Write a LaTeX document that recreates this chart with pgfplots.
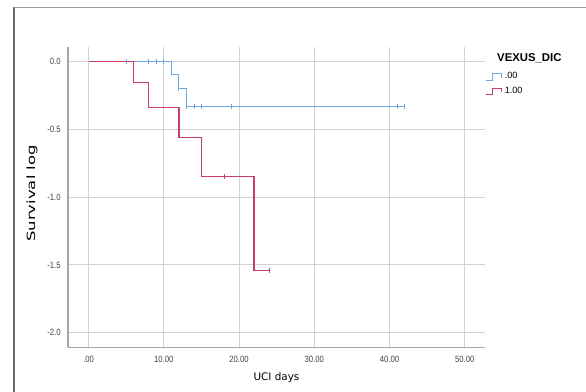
\documentclass[border=0pt]{standalone}
\usepackage{pgfplots}
\pgfplotsset{compat=1.18}
\usepackage{fontspec}
\setmainfont{Liberation Sans}
\newfontfamily\labfont{DejaVu Sans}
\definecolor{kmblue}{RGB}{115,165,222}
\definecolor{kmred}{RGB}{200,62,102}
\definecolor{framecol}{RGB}{95,105,115}
\begin{document}
\begin{tikzpicture}
\path[use as bounding box] (0pt,0pt) rectangle (439.5pt,294pt);
\draw[framecol,line width=1.1pt] (10.5pt,0pt) -- (10.5pt,288.5pt);
\draw[gray!80,line width=0.9pt] (10.5pt,288.5pt) -- (439.5pt,288.5pt);
\begin{axis}[
  at={(51pt,33.5pt)}, anchor=south west,
  scale only axis, width=312.75pt, height=225.45pt,
  xmin=-2.74, xmax=52.7, ymin=-2.108, ymax=0.11,
  axis lines=left, axis line style={gray!70,line width=0.8pt,-},
  xtick={0,10,...,50}, xticklabels={.00,10.00,20.00,30.00,40.00,50.00},
  ytick={0,-0.5,-1,-1.5,-2}, yticklabels={0.0,-0.5,-1.0,-1.5,-2.0},
  major tick length=0pt,
  tick label style={font=\fontsize{6.8}{7.5}\selectfont, text=black!75, xscale=0.85},
  xticklabel style={yshift=-3pt},
  yticklabel style={xshift=-3pt},
  grid=major, major grid style={gray!35,line width=0.8pt},
  xlabel={UCI days}, ylabel={Survival log},
  xlabel style={font=\labfont\fontsize{7.8}{9}\selectfont, at={(axis description cs:0.5,-0.1)}, anchor=center},
  ylabel style={font=\labfont\fontsize{8.5}{10}\selectfont, at={(axis description cs:-0.0866,0.512)}, anchor=center, xscale=1.45},
  clip=false,
  legend style={at={(axis description cs:1.0,0.925)}, anchor=north west, draw=none, fill=none,
    font=\fontsize{6.8}{7.5}\selectfont, inner sep=0pt, row sep=0.6pt,
    /tikz/every even column/.append style={column sep=1pt}},
  legend cell align=left,
  legend image code/.code={\draw[#1,line width=0.7pt] (0,-0.1cm) -- (0.18cm,-0.1cm) -- (0.18cm,0.07cm) -- (0.42cm,0.07cm) -- (0.42cm,-0.03cm);},
]
\addplot[const plot, kmblue, line width=0.75pt] coordinates {(0,0) (11,-0.095) (12,-0.2) (13,-0.333) (42,-0.333)};
\addlegendentry{.00}
\addplot[const plot, kmred, line width=0.95pt] coordinates {(0,0) (6,-0.154) (8,-0.336) (12,-0.56) (15,-0.847) (22,-1.54) (24,-1.54)};
\addlegendentry{1.00}
\addplot[only marks, mark=|, mark size=1.8pt, kmblue, line width=0.6pt, forget plot] coordinates {(5,0) (8,0) (9,0) (10,0) (12,-0.2) (13,-0.333) (14,-0.333) (15,-0.333) (19,-0.333) (41,-0.333) (42,-0.333)};
\addplot[only marks, mark=|, mark size=1.8pt, kmred, line width=0.6pt, forget plot] coordinates {(18,-0.847) (24,-1.54)};
\node[anchor=west, font=\bfseries\fontsize{8.5}{9}\selectfont] at (axis description cs:1.018,0.962) {VEXUS\_DIC};
\end{axis}
\end{tikzpicture}
\end{document}
